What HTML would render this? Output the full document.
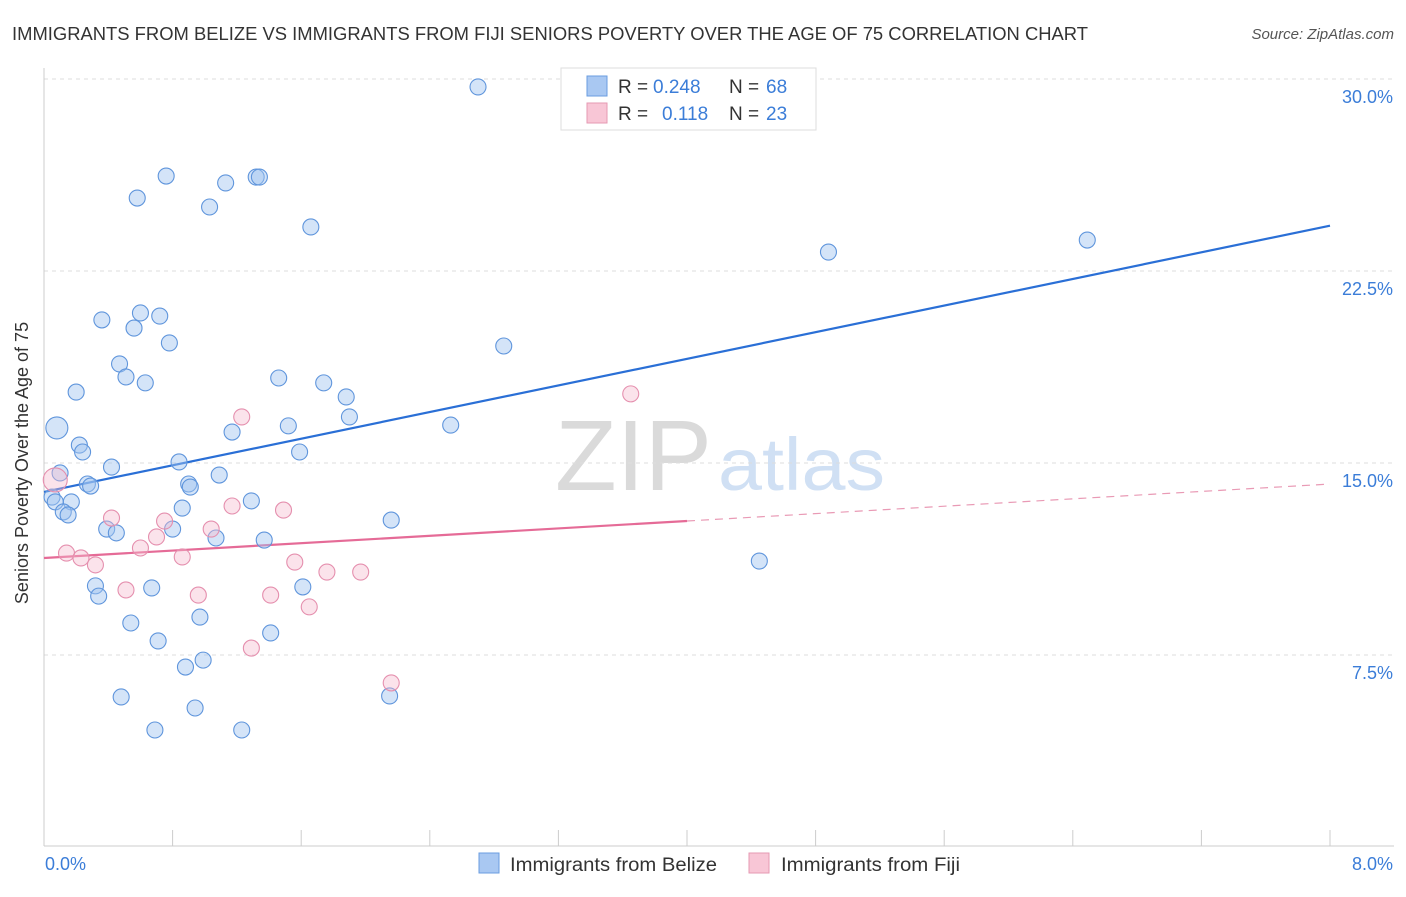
<!DOCTYPE html>
<html><head><meta charset="utf-8">
<style>
body{margin:0;background:#fff;font-family:"Liberation Sans",sans-serif;}
svg text{font-family:"Liberation Sans",sans-serif;}
</style></head>
<body>
<svg width="1406" height="892" viewBox="0 0 1406 892">
<text x="12" y="40" font-size="18.5" fill="#333" textLength="1076" lengthAdjust="spacingAndGlyphs">IMMIGRANTS FROM BELIZE VS IMMIGRANTS FROM FIJI SENIORS POVERTY OVER THE AGE OF 75 CORRELATION CHART</text>
<text x="1394" y="39" font-size="15" fill="#555" font-style="italic" text-anchor="end">Source: ZipAtlas.com</text>
<g>
<text x="555" y="490" font-size="100" fill="#dadada" font-family="Liberation Serif" textLength="157" lengthAdjust="spacingAndGlyphs">ZIP</text>
<text x="718" y="490" font-size="74" fill="#d0e0f4" textLength="167" lengthAdjust="spacingAndGlyphs">atlas</text>
</g>
<g id="grid"></g>
<g id="axes"></g>
<g id="lines"></g>
<g id="pts"></g>
<text x="20" y="455" font-size="18" fill="#333" text-anchor="middle" transform="rotate(-90 28 455)">Seniors Poverty Over the Age of 75</text>
<g>
<rect x="561" y="68" width="255" height="62" fill="#fff" stroke="#ddd"/>
<rect x="587" y="76" width="20" height="20" fill="#a9c8f2" stroke="#6a9de0"/>
<rect x="587" y="103" width="20" height="20" fill="#f8c6d6" stroke="#e699b3"/>
<text x="618" y="93" font-size="19" fill="#333">R =</text>
<text x="653" y="93" font-size="19" fill="#3b7dd8">0.248</text>
<text x="729" y="93" font-size="19" fill="#333">N =</text>
<text x="766" y="93" font-size="19" fill="#3b7dd8">68</text>
<text x="618" y="120" font-size="19" fill="#333">R =</text>
<text x="662" y="120" font-size="19" fill="#3b7dd8">0.118</text>
<text x="729" y="120" font-size="19" fill="#333">N =</text>
<text x="766" y="120" font-size="19" fill="#3b7dd8">23</text>
</g>
<g>
<rect x="479" y="853" width="20" height="20" fill="#a9c8f2" stroke="#6a9de0"/>
<text x="510" y="871" font-size="19" fill="#333" textLength="207" lengthAdjust="spacingAndGlyphs">Immigrants from Belize</text>
<rect x="749" y="853" width="20" height="20" fill="#f8c6d6" stroke="#e699b3"/>
<text x="781" y="871" font-size="19" fill="#333" textLength="179" lengthAdjust="spacingAndGlyphs">Immigrants from Fiji</text>
</g>
</svg>
<script>
const yTicks=[7.5,15,22.5,30];
const yTickLabels=["7.5%","15.0%","22.5%","30.0%"];
const xTickLabels=["0.0%","8.0%"];
const belizeX=[2.70,0.76,1.13,1.32,1.34,0.58,1.03,1.66,4.88,6.49,0.36,0.60,0.72,0.56,0.78,2.86,0.47,0.51,0.63,1.46,1.74,0.20,1.88,1.90,0.08,2.53,1.17,1.52,0.22,0.24,1.59,0.84,0.42,0.10,0.27,0.29,0.90,0.91,1.09,0.05,0.07,0.17,1.29,0.86,0.12,0.15,2.16,0.39,0.45,0.80,1.07,1.37,4.45,0.32,0.67,1.61,0.34,0.97,0.54,1.41,0.71,0.99,0.88,0.48,2.15,0.94,0.69,1.23];
const belizeY=[29.69,26.21,25.94,26.17,26.17,25.35,25.00,24.22,23.24,23.71,20.59,20.86,20.74,20.27,19.69,19.57,18.87,18.36,18.13,18.32,18.13,17.77,17.58,16.80,16.37,16.48,16.21,16.45,15.70,15.43,15.43,15.04,14.84,14.61,14.18,14.10,14.18,14.06,14.53,13.67,13.48,13.48,13.52,13.24,13.09,12.97,12.77,12.42,12.27,12.42,12.07,11.99,11.17,10.20,10.12,10.16,9.80,8.98,8.75,8.36,8.05,7.30,7.03,5.86,5.90,5.43,4.57,4.57];
const fijiX=[0.07,0.14,0.23,0.32,0.42,0.60,0.70,0.75,0.86,1.04,1.23,1.17,1.49,0.51,0.96,1.41,1.56,1.65,1.76,1.97,1.29,2.16,3.65];
const fijiY=[14.34,11.48,11.29,11.02,12.85,11.68,12.11,12.73,11.33,12.42,16.80,13.32,13.16,10.04,9.84,9.84,11.13,9.38,10.74,10.74,7.77,6.41,17.70];
const belizeTrend=[13.87,1.30];
const fijiTrend=[11.29,0.361];
const NS="http://www.w3.org/2000/svg";
const X0=44,X1=1330,Y0=847;
const sx=v=>X0+v/8*(X1-X0);
const sy=v=>Y0-v*25.6;
function mk(t,a,p){const e=document.createElementNS(NS,t);for(const k in a)e.setAttribute(k,a[k]);p.appendChild(e);return e;}
const grid=document.getElementById('grid'),axes=document.getElementById('axes'),lines=document.getElementById('lines'),pts=document.getElementById('pts');
yTicks.forEach((t,i)=>{
 const l=mk('line',{x1:X0,x2:1394,y1:sy(t),y2:sy(t),stroke:'#ddd','stroke-dasharray':'4 4'},grid);
 
 
 const tx=mk('text',{x:1393,y:sy(t)+24,'font-size':18,fill:'#3b7dd8','text-anchor':'end'},axes);
 tx.textContent=yTickLabels[i];
 
 
});
mk('line',{x1:X0,x2:X0,y1:68,y2:846,stroke:'#ccc'},axes);
mk('line',{x1:X0,x2:1394,y1:846,y2:846,stroke:'#ccc'},axes);
for(let i=0;i<=10;i++){const x=sx(i*0.8);mk('line',{x1:x,x2:x,y1:830,y2:846,stroke:'#ccc'},axes);}
const xl=mk('text',{x:45,y:870,'font-size':18,fill:'#3b7dd8'},axes);xl.textContent=xTickLabels[0];


const xr=mk('text',{x:1393,y:870,'font-size':18,fill:'#3b7dd8','text-anchor':'end'},axes);xr.textContent=xTickLabels[1];


const f=(tr,x)=>tr[0]+tr[1]*x;
let bl=mk('line',{x1:sx(0),y1:sy(f(belizeTrend,0)),x2:sx(8),y2:sy(f(belizeTrend,8)),stroke:'#2a6fd6','stroke-width':2.2},lines);


let fl=mk('line',{x1:sx(0),y1:sy(f(fijiTrend,0)),x2:sx(4),y2:sy(f(fijiTrend,4)),stroke:'#e56b97','stroke-width':2.2},lines);


let fd=mk('line',{x1:sx(4),y1:sy(f(fijiTrend,4)),x2:sx(8),y2:sy(f(fijiTrend,8)),stroke:'#e99ab5','stroke-width':1.2,'stroke-dasharray':'8 6'},lines);


belizeX.forEach((x,i)=>{
 const c=mk('circle',{cx:sx(x),cy:sy(belizeY[i]),r:(x<0.1&&belizeY[i]>16)?11:8,fill:'rgba(160,196,240,0.45)',stroke:'#5f95dc','stroke-width':1.1},pts);
 
 
});
fijiX.forEach((x,i)=>{
 const c=mk('circle',{cx:sx(x),cy:sy(fijiY[i]),r:i==0?12:8,fill:'rgba(246,186,206,0.4)',stroke:'#e58fae','stroke-width':1.1},pts);
 
 
});
</script>
</body></html>
